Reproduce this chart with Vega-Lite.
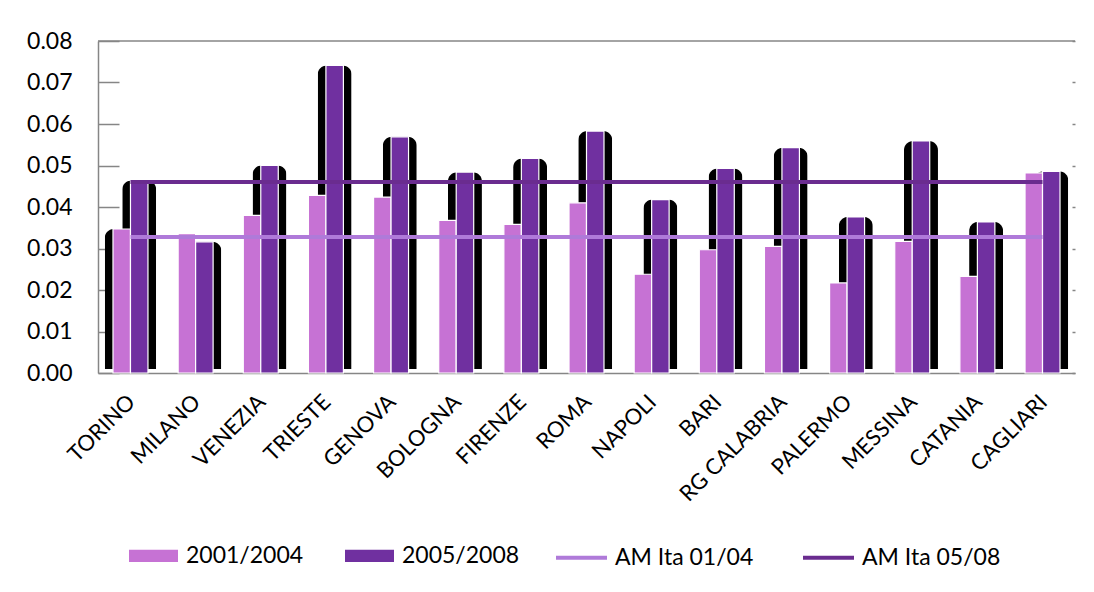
{
  "$schema": "https://vega.github.io/schema/vega-lite/v6.json",
  "width": 977,
  "height": 332,
  "autosize": {"type": "none"},
  "padding": {"left": 98, "top": 41, "right": 19, "bottom": 219},
  "background": "white",
  "config": {
    "view": {"stroke": null},
    "font": "Lato",
    "axis": {"labelFont": "Lato", "labelColor": "black", "domainColor": "#868686", "tickColor": "#868686", "domainWidth": 1.5, "tickWidth": 1.5}
  },
  "datasets": {
    "bars": [
      {"city": "TORINO", "series": "2001/2004", "value": 0.0347},
      {"city": "TORINO", "series": "2005/2008", "value": 0.0464},
      {"city": "MILANO", "series": "2001/2004", "value": 0.0336},
      {"city": "MILANO", "series": "2005/2008", "value": 0.0316},
      {"city": "VENEZIA", "series": "2001/2004", "value": 0.0380},
      {"city": "VENEZIA", "series": "2005/2008", "value": 0.0500},
      {"city": "TRIESTE", "series": "2001/2004", "value": 0.0428},
      {"city": "TRIESTE", "series": "2005/2008", "value": 0.0741},
      {"city": "GENOVA", "series": "2001/2004", "value": 0.0424},
      {"city": "GENOVA", "series": "2005/2008", "value": 0.0569},
      {"city": "BOLOGNA", "series": "2001/2004", "value": 0.0368},
      {"city": "BOLOGNA", "series": "2005/2008", "value": 0.0484},
      {"city": "FIRENZE", "series": "2001/2004", "value": 0.0358},
      {"city": "FIRENZE", "series": "2005/2008", "value": 0.0517},
      {"city": "ROMA", "series": "2001/2004", "value": 0.0410},
      {"city": "ROMA", "series": "2005/2008", "value": 0.0583},
      {"city": "NAPOLI", "series": "2001/2004", "value": 0.0238},
      {"city": "NAPOLI", "series": "2005/2008", "value": 0.0418},
      {"city": "BARI", "series": "2001/2004", "value": 0.0297},
      {"city": "BARI", "series": "2005/2008", "value": 0.0493},
      {"city": "RG CALABRIA", "series": "2001/2004", "value": 0.0305},
      {"city": "RG CALABRIA", "series": "2005/2008", "value": 0.0543},
      {"city": "PALERMO", "series": "2001/2004", "value": 0.0217},
      {"city": "PALERMO", "series": "2005/2008", "value": 0.0376},
      {"city": "MESSINA", "series": "2001/2004", "value": 0.0317},
      {"city": "MESSINA", "series": "2005/2008", "value": 0.0559},
      {"city": "CATANIA", "series": "2001/2004", "value": 0.0233},
      {"city": "CATANIA", "series": "2005/2008", "value": 0.0364},
      {"city": "CAGLIARI", "series": "2001/2004", "value": 0.0482},
      {"city": "CAGLIARI", "series": "2005/2008", "value": 0.0486}
    ],
    "avg": [
      {"city": "TORINO", "series": "AM Ita 01/04", "value": 0.0328},
      {"city": "CAGLIARI", "series": "AM Ita 01/04", "value": 0.0328},
      {"city": "TORINO", "series": "AM Ita 05/08", "value": 0.0460},
      {"city": "CAGLIARI", "series": "AM Ita 05/08", "value": 0.0460}
    ]
  },
  "resolve": {"axis": {"y": "independent"}},
  "layer": [
    {
      "data": {"name": "bars"},
      "transform": [{"filter": "datum.series == '2005/2008' || datum.city == 'TORINO'"}],
      "mark": {"type": "bar", "color": "black", "width": 34, "yOffset": -4, "cornerRadiusEnd": 9},
      "encoding": {
        "x": {"field": "city", "type": "nominal", "sort": null,
              "scale": {"paddingInner": 0.463, "paddingOuter": 0.23},
              "axis": {"title": null, "labelAngle": -45, "labelFontSize": 22, "ticks": false, "labelPadding": 18, "labelOffset": -6}},
        "xOffset": {"field": "series", "type": "nominal", "scale": {"domain": ["2001/2004", "2005/2008"], "paddingInner": 0, "paddingOuter": 0}},
        "y": {"field": "value", "type": "quantitative", "scale": {"domain": [0, 0.08], "nice": false},
              "axis": {"orient": "left", "title": null, "values": [0, 0.01, 0.02, 0.03, 0.04, 0.05, 0.06, 0.07, 0.08], "format": ".2f", "labelFontSize": 23, "tickSize": -21, "labelPadding": 47, "grid": false}}
      }
    },
    {
      "data": {"name": "bars"},
      "mark": {"type": "bar", "stroke": "white", "strokeWidth": 1.2},
      "encoding": {
        "x": {"field": "city", "type": "nominal", "sort": null},
        "xOffset": {"field": "series", "type": "nominal"},
        "y": {"field": "value", "type": "quantitative",
              "axis": {"orient": "right", "title": null, "labels": false, "domain": false, "values": [0, 0.01, 0.02, 0.03, 0.04, 0.05, 0.06, 0.07, 0.08], "tickSize": -3, "grid": false}},
        "color": {"field": "series", "type": "nominal",
                  "scale": {"domain": ["2001/2004", "2005/2008"], "range": ["#C672D4", "#7030A0"]},
                  "legend": {"title": null, "orient": "none", "legendX": 31, "legendY": 490, "direction": "horizontal",
                             "labelFont": "Lato", "labelFontSize": 23, "labelColor": "black", "labelOffset": 8, "columnPadding": 41,
                             "symbolType": "M-1,-0.25H1V0.25H-1Z", "symbolSize": 2401, "symbolStrokeWidth": 0, "symbolOpacity": 1, "padding": 0}}
      }
    },
    {
      "data": {"name": "avg"},
      "mark": {"type": "line", "strokeWidth": 4},
      "encoding": {
        "x": {"field": "city", "type": "nominal", "sort": null},
        "y": {"field": "value", "type": "quantitative", "axis": null},
        "stroke": {"field": "series", "type": "nominal",
                   "scale": {"domain": ["AM Ita 01/04", "AM Ita 05/08"], "range": ["#AF7AD9", "#6A2C8F"]},
                   "legend": {"title": null, "orient": "none", "legendX": 456, "legendY": 489, "direction": "horizontal",
                              "labelFont": "Lato", "labelFontSize": 23, "labelColor": "black", "labelOffset": 6, "columnPadding": 41,
                              "symbolType": "stroke", "symbolSize": 2601, "symbolStrokeWidth": 4, "symbolOpacity": 1, "padding": 0}}
      }
    },
    {
      "data": {"values": [{}]},
      "mark": {"type": "rule", "color": "#868686", "strokeWidth": 1.5},
      "encoding": {"y": {"datum": 0.08, "type": "quantitative", "axis": null}}
    }
  ]
}
